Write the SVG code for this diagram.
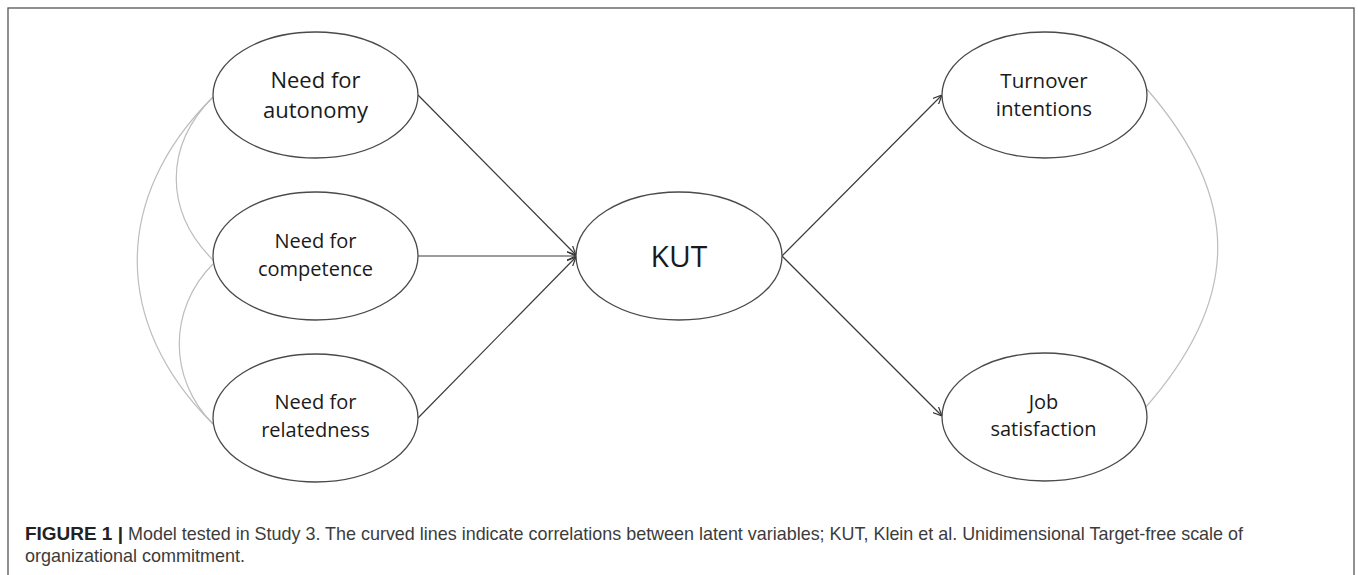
<svg xmlns="http://www.w3.org/2000/svg" width="1358" height="575" viewBox="0 0 1358 575">
<defs>
<marker id="arr" viewBox="0 0 10 10" refX="10" refY="5" markerWidth="9" markerHeight="9" markerUnits="userSpaceOnUse" orient="auto">
<path d="M0,0.5 L10,5 L0,9.5" fill="none" stroke="#333" stroke-width="1.3"/>
</marker>
<style>
.node ellipse{fill:#fff;stroke:#4a4a4a;stroke-width:1.3}
.lbl{font-family:"Open Sans","DejaVu Sans",sans-serif;fill:#1a1a1a;text-anchor:middle}
.path{fill:none;stroke:#3a3a3a;stroke-width:1.2}
.corr{fill:none;stroke:#bdbdbd;stroke-width:1.2}
.cap{font-family:"Liberation Sans",Arial,sans-serif;font-size:19px;fill:#3c3c3c}
.capb{font-family:"Liberation Sans",Arial,sans-serif;font-size:19px;font-weight:bold;fill:#222}
</style>
</defs>
<rect x="0" y="0" width="1358" height="575" fill="#fff"/>
<rect x="8" y="8" width="1346" height="580" fill="none" stroke="#555" stroke-width="1.3"/>
<g id="connectors">
<path class="corr" d="M213,97 C164,146 164,211 213,260"/>
<path class="corr" d="M213,97 C112,197 112,324 213,424"/>
<path class="corr" d="M213,264 C168,309 168,379 213,424"/>
<path class="corr" d="M1145,87 C1242,197 1242,298 1145,408"/>
<line class="path" x1="418" y1="95" x2="576" y2="255" marker-end="url(#arr)"/>
<line class="path" x1="418" y1="256" x2="576" y2="256" marker-end="url(#arr)"/>
<line class="path" x1="418" y1="418" x2="576" y2="257" marker-end="url(#arr)"/>
<line class="path" x1="782" y1="256" x2="942" y2="95" marker-end="url(#arr)"/>
<line class="path" x1="782" y1="256" x2="942" y2="416" marker-end="url(#arr)"/>
</g>
<g id="n-autonomy" class="node">
<ellipse cx="315.5" cy="95" rx="102.5" ry="63"/>
<text class="lbl" x="315.5" y="88.3" font-size="22">Need for</text>
<text class="lbl" x="315.5" y="118.3" font-size="22">autonomy</text>
</g>
<g id="n-competence" class="node">
<ellipse cx="315.5" cy="256" rx="102.5" ry="64"/>
<text class="lbl" x="315.5" y="248" font-size="20">Need for</text>
<text class="lbl" x="315.5" y="275.5" font-size="20">competence</text>
</g>
<g id="n-relatedness" class="node">
<ellipse cx="315.5" cy="418" rx="102.5" ry="64"/>
<text class="lbl" x="315.5" y="409" font-size="20">Need for</text>
<text class="lbl" x="315.5" y="436.5" font-size="20">relatedness</text>
</g>
<g id="n-kut" class="node">
<ellipse cx="679" cy="256" rx="103" ry="64"/>
<text class="lbl" x="679" y="267" font-size="30">KUT</text>
</g>
<g id="n-turnover" class="node">
<ellipse cx="1044.5" cy="95" rx="102.5" ry="63"/>
<text class="lbl" x="1044" y="88" font-size="20.5">Turnover</text>
<text class="lbl" x="1044" y="116" font-size="20.5">intentions</text>
</g>
<g id="n-job" class="node">
<ellipse cx="1044.5" cy="417" rx="102.5" ry="64"/>
<text class="lbl" x="1043.5" y="408.5" font-size="20">Job</text>
<text class="lbl" x="1043.5" y="436" font-size="20">satisfaction</text>
</g>
<g id="caption">
<text class="capb" x="25" y="540" textLength="98" lengthAdjust="spacingAndGlyphs">FIGURE 1 |</text>
<text class="cap" x="128" y="540" textLength="1115" lengthAdjust="spacingAndGlyphs">Model tested in Study 3. The curved lines indicate correlations between latent variables; KUT, Klein et al. Unidimensional Target-free scale of</text>
<text class="cap" x="25" y="561.5" textLength="220" lengthAdjust="spacingAndGlyphs">organizational commitment.</text>
</g>
</svg>
